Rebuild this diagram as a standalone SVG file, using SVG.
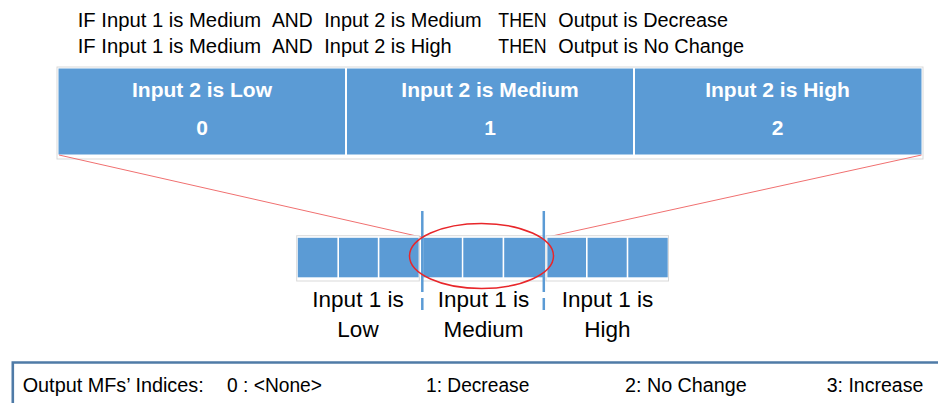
<svg xmlns="http://www.w3.org/2000/svg" width="938" height="403" viewBox="0 0 938 403">
<style>
.rule{font-family:"Liberation Sans",Arial,sans-serif;font-size:19.5px;fill:#000}
.hdr{font-family:"Liberation Sans",Arial,sans-serif;font-size:21px;font-weight:bold;fill:#fff;text-anchor:middle}
.lbl{font-family:"Liberation Sans",Arial,sans-serif;font-size:22.5px;fill:#000;text-anchor:middle}
.leg{font-family:"Liberation Sans",Arial,sans-serif;font-size:19.5px;fill:#000}
.cell{fill:#5b9bd5}
.frame{fill:#fff;stroke:#d9d9d9;stroke-width:1}
.zoom{stroke:#f07070;stroke-width:1;fill:none}
.dash{stroke:#5b9bd5;stroke-width:2.5}
</style>
<rect width="938" height="403" fill="#fff"/>
<g id="rules">
<text class="rule" x="77.7" y="27" textLength="183.3" lengthAdjust="spacingAndGlyphs">IF Input 1 is Medium</text>
<text class="rule" x="272" y="27" textLength="40.7" lengthAdjust="spacingAndGlyphs">AND</text>
<text class="rule" x="324.3" y="27" textLength="157.4" lengthAdjust="spacingAndGlyphs">Input 2 is Medium</text>
<text class="rule" x="498.3" y="27" textLength="48.4" lengthAdjust="spacingAndGlyphs">THEN</text>
<text class="rule" x="558.3" y="27" textLength="169.7" lengthAdjust="spacingAndGlyphs">Output is Decrease</text>
<text class="rule" x="77.7" y="53" textLength="183.3" lengthAdjust="spacingAndGlyphs">IF Input 1 is Medium</text>
<text class="rule" x="272" y="53" textLength="40.7" lengthAdjust="spacingAndGlyphs">AND</text>
<text class="rule" x="324.3" y="53" textLength="127.4" lengthAdjust="spacingAndGlyphs">Input 2 is High</text>
<text class="rule" x="498.3" y="53" textLength="48.4" lengthAdjust="spacingAndGlyphs">THEN</text>
<text class="rule" x="558.3" y="53" textLength="185.7" lengthAdjust="spacingAndGlyphs">Output is No Change</text>
</g>
<g id="input2-table">
<rect class="frame" x="57" y="67" width="866" height="92"/>
<g id="in2-low"><rect class="cell" x="58.5" y="68.5" width="286.5" height="86"/><text class="hdr" x="202" y="96.5">Input 2 is Low</text><text class="hdr" x="202" y="135">0</text></g>
<g id="in2-medium"><rect class="cell" x="347" y="68.5" width="286" height="86"/><text class="hdr" x="490" y="96.5">Input 2 is Medium</text><text class="hdr" x="490" y="135">1</text></g>
<g id="in2-high"><rect class="cell" x="635" y="68.5" width="286.5" height="86"/><text class="hdr" x="777.5" y="96.5">Input 2 is High</text><text class="hdr" x="777.5" y="135">2</text></g>
</g>
<g id="connectors">
<line class="zoom" x1="59" y1="155" x2="421" y2="237"/>
<line class="zoom" x1="921.5" y1="155" x2="547.5" y2="237"/>
</g>
<g id="input1-low">
<rect class="frame" x="296.7" y="235.7" width="122.6" height="45.3"/>
<rect class="cell" x="297.8" y="237.8" width="39.6" height="39.5"/>
<rect class="cell" x="339" y="237.8" width="38.8" height="39.5"/>
<rect class="cell" x="379.4" y="237.8" width="39.2" height="39.5"/>
<text class="lbl" x="358" y="307">Input 1 is</text>
<text class="lbl" x="358" y="337">Low</text>
</g>
<g id="input1-medium">
<rect class="frame" x="421.5" y="235.7" width="123" height="45.3"/>
<rect class="cell" x="423.3" y="237.8" width="38.5" height="39.5"/>
<rect class="cell" x="463.3" y="237.8" width="39.3" height="39.5"/>
<rect class="cell" x="504.2" y="237.8" width="39.2" height="39.5"/>
<text class="lbl" x="483.5" y="307">Input 1 is</text>
<text class="lbl" x="483.5" y="337">Medium</text>
</g>
<g id="input1-high">
<rect class="frame" x="546" y="235.7" width="122.5" height="45.3"/>
<rect class="cell" x="547.4" y="237.8" width="38.6" height="39.5"/>
<rect class="cell" x="587.6" y="237.8" width="39.1" height="39.5"/>
<rect class="cell" x="628.3" y="237.8" width="39.4" height="39.5"/>
<text class="lbl" x="607.5" y="307">Input 1 is</text>
<text class="lbl" x="607.5" y="337">High</text>
</g>
<g id="dividers">
<line class="dash" x1="422.3" y1="211" x2="422.3" y2="292"/>
<line class="dash" x1="422.3" y1="298" x2="422.3" y2="310"/>
<line class="dash" x1="543.8" y1="211" x2="543.8" y2="292"/>
<line class="dash" x1="543.8" y1="298" x2="543.8" y2="310"/>
</g>
<g id="highlight">
<ellipse cx="481.5" cy="256" rx="72" ry="32.5" fill="none" stroke="#e8262a" stroke-width="1.5"/>
</g>
<g id="legend">
<path d="M12.8 403 V362.5 H938" fill="none" stroke="#4f7ba7" stroke-width="2.6"/>
<text class="leg" x="22.7" y="391.7" textLength="181" lengthAdjust="spacingAndGlyphs">Output MFs’ Indices:</text>
<text class="leg" x="227" y="391.7" textLength="95" lengthAdjust="spacingAndGlyphs">0 : &lt;None&gt;</text>
<text class="leg" x="426" y="391.7" textLength="103.3" lengthAdjust="spacingAndGlyphs">1: Decrease</text>
<text class="leg" x="625" y="391.7" textLength="121.7" lengthAdjust="spacingAndGlyphs">2:  No Change</text>
<text class="leg" x="826.7" y="391.7" textLength="96.6" lengthAdjust="spacingAndGlyphs">3: Increase</text>
</g>
</svg>
